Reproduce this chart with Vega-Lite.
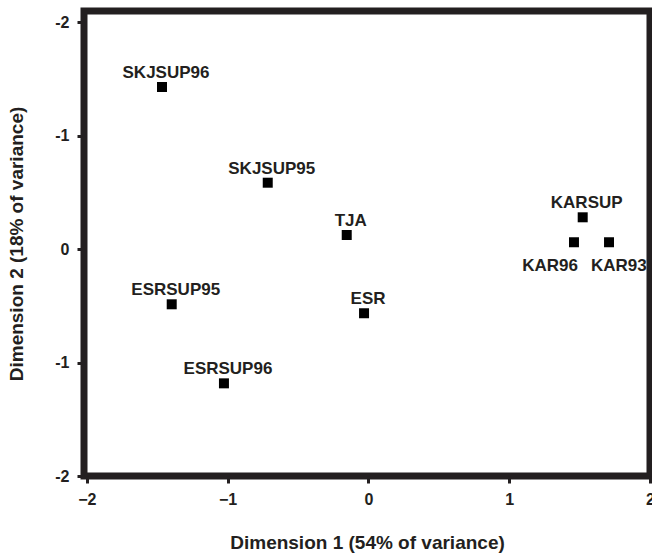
{
  "$schema": "https://vega.github.io/schema/vega-lite/v6.json",
  "width": 566,
  "height": 465,
  "autosize": "none",
  "padding": {"left": 84, "top": 11, "right": 2, "bottom": 82},
  "background": "white",
  "config": {
    "view": {"stroke": "#231f20", "strokeWidth": 7},
    "font": "Liberation Sans",
    "axis": {
      "grid": false,
      "domain": false,
      "tickColor": "#231f20",
      "tickWidth": 3,
      "tickSize": 7,
      "labelFont": "Liberation Sans",
      "labelFontSize": 16,
      "labelFontWeight": "bold",
      "labelColor": "#231f20",
      "titleFont": "Liberation Sans",
      "titleFontSize": 19,
      "titleFontWeight": "bold",
      "titleColor": "#231f20"
    }
  },
  "data": {
    "values": [
      {"label": "SKJSUP96", "d1": -1.466, "d2": 1.43, "pos": "above"},
      {"label": "SKJSUP95", "d1": -0.715, "d2": 0.586, "pos": "above"},
      {"label": "TJA", "d1": -0.154, "d2": 0.125, "pos": "above"},
      {"label": "KARSUP", "d1": 1.522, "d2": 0.281, "pos": "above"},
      {"label": "KAR96", "d1": 1.46, "d2": 0.061, "pos": "below-left"},
      {"label": "KAR93", "d1": 1.709, "d2": 0.061, "pos": "below-right"},
      {"label": "ESRSUP95", "d1": -1.397, "d2": -0.486, "pos": "above"},
      {"label": "ESR", "d1": -0.031, "d2": -0.565, "pos": "above"},
      {"label": "ESRSUP96", "d1": -1.026, "d2": -1.183, "pos": "above"}
    ]
  },
  "encoding": {
    "x": {
      "field": "d1",
      "type": "quantitative",
      "scale": {"domain": [-2.02, 2], "nice": false, "zero": false},
      "axis": {
        "values": [-2, -1, 0, 1, 2],
        "labelPadding": 8,
        "labelFlush": false,
        "title": "Dimension 1 (54% of variance)",
        "titlePadding": 26
      }
    },
    "y": {
      "field": "d2",
      "type": "quantitative",
      "scale": {"domain": [-2, 2.1], "nice": false, "zero": false},
      "axis": {
        "values": [-2, -1, 0, 1, 2],
        "labelExpr": "datum.value == 0 ? '0' : '-' + abs(datum.value)",
        "labelPadding": 8,
        "labelFlush": false,
        "title": "Dimension 2 (18% of variance)",
        "titlePadding": 28
      }
    }
  },
  "layer": [
    {
      "mark": {"type": "point", "shape": "square", "filled": true, "size": 100, "color": "#000000", "opacity": 1}
    },
    {
      "transform": [{"filter": "datum.pos == 'above'"}],
      "mark": {"type": "text", "baseline": "alphabetic", "dy": -9, "dx": 4, "fontSize": 17, "fontWeight": "bold", "color": "#231f20"},
      "encoding": {"text": {"field": "label"}}
    },
    {
      "transform": [{"filter": "datum.pos == 'below-left'"}],
      "mark": {"type": "text", "baseline": "alphabetic", "align": "right", "dy": 29, "dx": 4, "fontSize": 17, "fontWeight": "bold", "color": "#231f20"},
      "encoding": {"text": {"field": "label"}}
    },
    {
      "transform": [{"filter": "datum.pos == 'below-right'"}],
      "mark": {"type": "text", "baseline": "alphabetic", "align": "left", "dy": 29, "dx": -18, "fontSize": 17, "fontWeight": "bold", "color": "#231f20"},
      "encoding": {"text": {"field": "label"}}
    }
  ]
}
